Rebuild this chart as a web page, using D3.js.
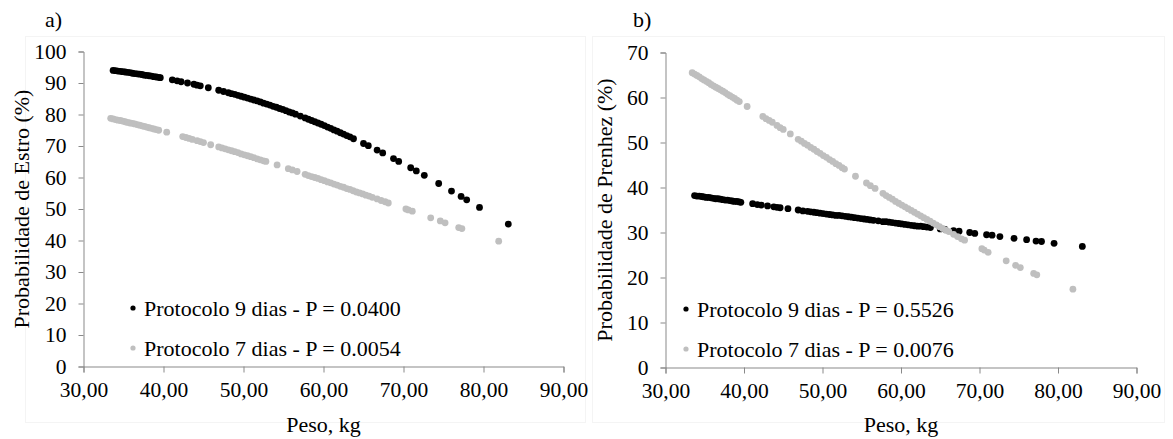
<!DOCTYPE html>
<html>
<head>
<meta charset="utf-8">
<script src="https://cdn.jsdelivr.net/npm/d3@7"></script>
<style>
  html, body { margin: 0; padding: 0; background: #fff; }
  svg { display: block; }
  svg text { font-family: "Liberation Serif", "Times New Roman", Times, "DejaVu Serif", serif !important; fill: #000; }
</style>
</head>
<body>
<svg id="chart" width="1173" height="439"></svg>
<script>
// Peso (kg) of animals per protocol
const weights9 = [33.7,34.0,34.3,34.6,34.9,35.2,35.5,35.8,36.1,36.4,36.7,37.0,37.3,37.6,37.9,38.2,38.5,38.8,39.1,39.4,39.6,
  41.1,41.7,42.2,43.0,43.8,44.2,44.6,45.6,46.9,47.5,48.1,
  48.5,48.9,49.3,49.7,50.1,50.5,50.9,51.3,51.7,52.1,52.5,52.9,53.3,53.7,54.1,54.5,54.9,55.3,55.7,56.1,56.5,57.1,57.7,58.1,58.5,58.9,59.3,59.7,60.1,60.5,60.9,61.3,61.7,62.1,62.5,62.9,63.3,63.75,
  65.0,65.6,66.7,67.4,68.75,69.4,70.9,71.6,72.6,74.4,76.0,77.2,77.9,79.5,83.1];
const estro9 = [94.0,93.9,93.8,93.7,93.6,93.5,93.4,93.3,93.1,93.0,92.9,92.8,92.7,92.5,92.4,92.3,92.2,92.0,91.9,91.8,91.7,
  91.0,90.7,90.4,90.0,89.6,89.3,89.1,88.5,87.7,87.3,86.9,
  86.6,86.4,86.1,85.8,85.5,85.2,84.9,84.6,84.3,84.0,83.6,83.3,83.0,82.6,82.3,81.9,81.6,81.2,80.8,80.5,80.1,79.5,78.9,78.5,78.1,77.7,77.3,76.9,76.5,76.0,75.6,75.1,74.7,74.2,73.8,73.3,72.9,72.3,
  70.8,70.1,68.7,67.8,66.0,65.1,63.1,62.1,60.7,58.1,55.7,54.0,52.9,50.5,45.2];
const prenhez9 = [38.2,38.1,38.1,38.0,37.9,37.8,37.8,37.7,37.6,37.5,37.5,37.4,37.3,37.2,37.2,37.1,37.0,36.9,36.9,36.8,36.7,
  36.4,36.2,36.1,35.9,35.7,35.6,35.5,35.3,35.0,34.8,34.7,
  34.6,34.5,34.4,34.3,34.2,34.1,34.0,33.9,33.8,33.8,33.7,33.6,33.5,33.4,33.3,33.2,33.1,33.0,32.9,32.8,32.7,32.6,32.4,32.4,32.3,32.2,32.1,32.0,31.9,31.8,31.7,31.6,31.5,31.4,31.4,31.3,31.2,31.1,
  30.8,30.7,30.4,30.3,30.0,29.8,29.5,29.4,29.1,28.7,28.4,28.1,28.0,27.6,26.9];

const weights7 = [33.4,33.7,34.0,34.3,34.6,34.9,35.2,35.5,35.8,36.1,36.4,36.7,37.0,37.3,37.6,37.9,38.2,38.5,38.8,39.1,39.4,
  40.4,42.4,42.8,43.2,43.6,44.2,44.6,45.0,45.9,
  46.9,47.3,47.7,48.1,48.5,48.9,49.3,49.7,50.1,50.5,50.9,51.3,51.7,52.1,52.5,52.8,
  54.2,55.6,56.1,56.7,
  57.7,58.1,58.5,58.9,59.3,59.7,60.1,60.5,60.9,61.3,61.7,62.1,62.5,62.9,63.3,63.7,64.1,64.5,64.9,65.3,65.7,66.1,66.7,67.2,67.7,68.1,
  70.3,70.6,71.1,73.4,74.6,75.2,76.9,77.3,81.9];
const estro7 = [78.8,78.6,78.4,78.2,78.1,77.9,77.7,77.5,77.3,77.2,77.0,76.8,76.6,76.4,76.2,76.0,75.8,75.6,75.4,75.2,75.0,
  74.4,73.0,72.7,72.4,72.1,71.7,71.4,71.1,70.4,
  69.7,69.4,69.1,68.8,68.5,68.2,67.9,67.5,67.2,66.9,66.6,66.3,65.9,65.6,65.3,65.1,
  64.0,62.8,62.4,61.9,
  61.0,60.6,60.3,60.0,59.7,59.3,59.0,58.6,58.3,57.9,57.6,57.2,56.9,56.5,56.2,55.8,55.4,55.1,54.8,54.4,54.1,53.7,53.2,52.7,52.3,51.9,
  50.0,49.7,49.3,47.2,46.2,45.6,44.1,43.8,39.8];
const prenhez7 = [65.5,65.2,64.9,64.6,64.2,63.9,63.6,63.3,62.9,62.6,62.3,62.0,61.7,61.4,61.1,60.7,60.4,60.1,59.8,59.4,59.1,
  58.0,55.8,55.3,54.9,54.5,53.8,53.3,52.9,51.9,
  50.7,50.3,49.8,49.4,48.9,48.5,48.0,47.6,47.1,46.7,46.2,45.8,45.3,44.9,44.4,44.1,
  42.5,41.0,40.4,39.8,
  38.7,38.2,37.8,37.4,36.9,36.5,36.1,35.7,35.3,34.9,34.5,34.1,33.7,33.3,32.9,32.5,32.1,31.7,31.3,30.9,30.5,30.2,29.6,29.1,28.6,28.3,
  26.4,26.1,25.6,23.7,22.7,22.2,20.9,20.6,17.4];

const xTicks = [30, 40, 50, 60, 70, 80, 90];
const yTicksA = [0, 10, 20, 30, 40, 50, 60, 70, 80, 90, 100];
const yTicksB = [0, 10, 20, 30, 40, 50, 60, 70];
const legendA = ["Protocolo 9 dias - P = 0.0400", "Protocolo 7 dias - P = 0.0054"];
const legendB = ["Protocolo 9 dias - P = 0.5526", "Protocolo 7 dias - P = 0.0076"];
const panelLabels = ["a)", "b)"];
const yTitles = ["Probabilidade de Estro (%)", "Probabilidade de Prenhez (%)"];
const xTitle = "Peso, kg";

const svg = d3.select("#chart");
const COLORS = ["#000000", "#bfbfbf"];
const AXIS = "#898989";
const FS_TICK = 21.5;
const FS = 22;
const FONT = "'Liberation Serif', 'Times New Roman', Times, 'DejaVu Serif', serif";

function panel(cfg) {
  const g = svg.append("g").attr("font-family", FONT);
  // faint chart-area border
  g.append("rect").attr("x", cfg.box[0] + 0.5).attr("y", cfg.box[1] + 0.5)
    .attr("width", cfg.box[2]).attr("height", cfg.box[3])
    .attr("fill", "none").attr("stroke", "#f4f4f4").attr("stroke-width", 1);

  const x = d3.scaleLinear().domain([30, 90]).range([cfg.left, cfg.right]);
  const y = d3.scaleLinear().domain([0, cfg.ymax]).range([cfg.bottom, cfg.top]);

  const xa = g.append("g").attr("transform", `translate(0,${cfg.bottom})`)
    .call(d3.axisBottom(x).tickValues(xTicks).tickSize(6).tickPadding(9)
      .tickFormat(d => d3.format(".2f")(d).replace(".", ",")));
  const ya = g.append("g").attr("transform", `translate(${cfg.left},0)`)
    .call(d3.axisLeft(y).tickValues(cfg.yticks).tickSize(5).tickPadding(12).tickFormat(d3.format("d")));
  [xa, ya].forEach(a => {
    a.attr("font-family", FONT).attr("font-size", FS_TICK);
    a.select(".domain").attr("stroke", AXIS);
    a.selectAll(".tick line").attr("stroke", AXIS);
    a.selectAll("text").attr("fill", "#000").style("font-family", FONT).style("font-size", FS_TICK + "px");
  });

  const series = [
    { w: weights9, v: cfg.v9, c: COLORS[0] },
    { w: weights7, v: cfg.v7, c: COLORS[1] }
  ];
  series.forEach(s => {
    g.append("g").selectAll("circle").data(s.w.map((w, i) => [w, s.v[i]])).enter()
      .append("circle")
      .attr("cx", d => x(d[0])).attr("cy", d => y(d[1]))
      .attr("r", 3.4).attr("fill", s.c);
  });

  const txt = (sel) => sel.style("font-family", FONT).style("font-size", FS + "px").attr("fill", "#000");

  // legend
  cfg.legend.forEach((t, i) => {
    const ly = cfg.legendY + i * 40;
    g.append("circle").attr("cx", cfg.legendX).attr("cy", ly).attr("r", 2.6).attr("fill", COLORS[i]);
    g.append("text").attr("x", cfg.legendX + 11).attr("y", ly + 7.5).call(txt).text(t);
  });

  // titles
  g.append("text").attr("x", cfg.labelX).attr("y", 27).call(txt).text(cfg.label);
  g.append("text").attr("transform", `translate(${cfg.ytitleX},${(cfg.top + cfg.bottom) / 2}) rotate(-90)`)
    .attr("text-anchor", "middle").call(txt).text(cfg.ytitle);
  g.append("text").attr("x", (cfg.left + cfg.right) / 2).attr("y", 432)
    .attr("text-anchor", "middle").call(txt).text(xTitle);
}

panel({
  left: 83.5, right: 563.5, top: 51.5, bottom: 366.5, ymax: 100, yticks: yTicksA,
  v9: estro9, v7: estro7, legend: legendA, legendX: 133, legendY: 308,
  label: panelLabels[0], labelX: 45, ytitle: yTitles[0], ytitleX: 29,
  box: [25, 36, 560, 386]
});
panel({
  left: 665.5, right: 1136.5, top: 52.5, bottom: 367.5, ymax: 70, yticks: yTicksB,
  v9: prenhez9, v7: prenhez7, legend: legendB, legendX: 686, legendY: 309,
  label: panelLabels[1], labelX: 633, ytitle: yTitles[1], ytitleX: 612,
  box: [592, 36, 572, 386]
});
</script>
</body>
</html>
